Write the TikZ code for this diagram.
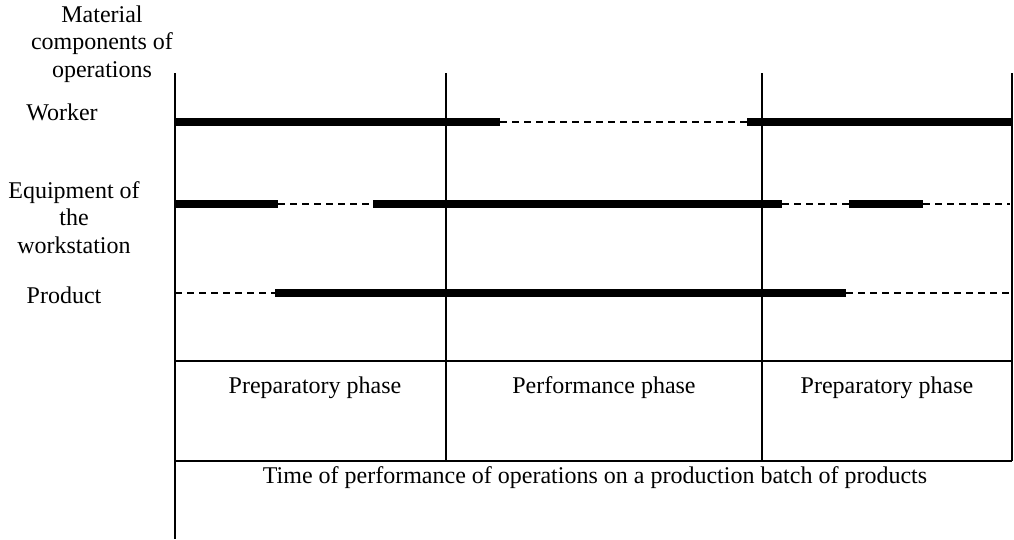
\documentclass[tikz,border=0pt]{standalone}
\usepackage{fontspec}
\setmainfont{Liberation Serif}
\begin{document}
\begin{tikzpicture}[x=1pt,y=-1pt,
  grid/.style={line width=1.5pt},
  axis/.style={line width=2pt},
  busy/.style={line width=8pt,line cap=butt},
  idle/.style={line width=1.5pt,dash pattern=on 7pt off 5pt},
  lbl/.style={inner sep=0pt,anchor=base,align=center,font=\fontsize{24}{27.5}\selectfont}]
\useasboundingbox (0,0) rectangle (1014,539);
% frame
\draw[axis] (175,73) -- (175,539);
\draw[grid] (446,73) -- (446,461);
\draw[grid] (762,73) -- (762,461);
\draw[grid] (1012,73) -- (1012,461);
\draw[grid] (175,361) -- (1012,361);
\draw[grid] (175,461) -- (1012,461);
% worker
\draw[busy] (175,122) -- (500,122);
\draw[idle] (500,122) -- (747,122);
\draw[busy] (747,122) -- (1013,122);
% equipment
\draw[busy] (175,204) -- (278,204);
\draw[idle] (278,204) -- (373,204);
\draw[busy] (373,204) -- (782,204);
\draw[idle] (782,204) -- (849,204);
\draw[busy] (849,204) -- (923,204);
\draw[idle] (923,204) -- (1010,204);
% product
\draw[idle] (175,293) -- (275,293);
\draw[busy] (275,293) -- (846,293);
\draw[idle] (846,293) -- (1010,293);
% labels (multi-line nodes: base = last line's baseline)
\node[lbl] (mat) at (102,77) {Material\\components of\\operations};
\node[lbl] (wor) at (62,120) {Worker};
\node[lbl] (equ) at (74,253) {Equipment of\\the\\workstation};
\node[lbl] (pro) at (64,303) {Product};
\node[lbl] (ph1) at (315,393) {Preparatory phase};
\node[lbl] (ph2) at (604,393) {Performance phase};
\node[lbl] (ph3) at (887,393) {Preparatory phase};
\node[lbl] (tim) at (595,483) {Time of performance of operations on a production batch of products};
\end{tikzpicture}
\end{document}
